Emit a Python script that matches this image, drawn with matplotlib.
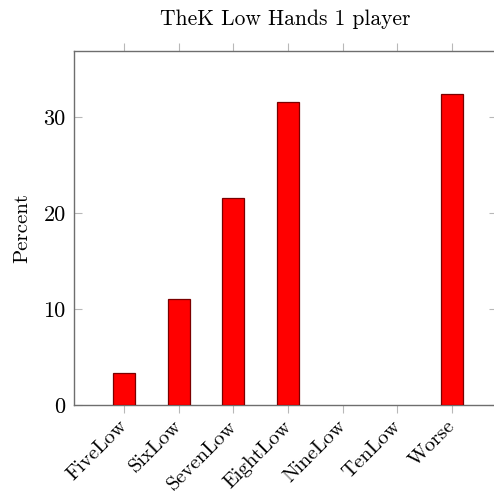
import matplotlib
matplotlib.use("Agg")
import matplotlib.pyplot as plt
import matplotlib.transforms as mtransforms
import numpy as np

categories = ["FiveLow", "SixLow", "SevenLow", "EightLow", "NineLow", "TenLow", "Worse"]
percent = [3.33, 11.1, 21.6, 31.6, 0.0, 0.0, 32.4]
yticks = [0, 10, 20, 30]

plt.rcParams['font.family'] = ['cmr10', 'DejaVu Serif']
plt.rcParams['axes.formatter.use_mathtext'] = True

fig = plt.figure(figsize=(4.94, 4.91), dpi=100)
ax = fig.add_axes([74/494, 1 - 405/491, (497-74)/494, (405-51)/491])

x = np.arange(len(categories))
lw = [0.9 if v > 0 else 0 for v in percent]
ax.bar(x, percent, width=0.4, color="#ff0000", edgecolor="#7a0000", linewidth=lw, zorder=3)

ax.set_xlim(-0.914, 6.82)
ax.set_ylim(0, 36.9)
ax.set_xticks(x)
ax.set_xticklabels([""] * len(categories))
ax.set_yticks(yticks)
ax.set_yticklabels([str(v) for v in yticks], fontsize=16)

# rotated category labels, anchored just left of / below each tick
trans = ax.get_xaxis_transform() + mtransforms.ScaledTranslation(-6/100, -12/100, fig.dpi_scale_trans)
for xi, name in zip(x, categories):
    ax.text(xi, 0, name, transform=trans, rotation=45, ha="right", va="top",
            rotation_mode="anchor", fontsize=14.8, clip_on=False)

for s in ax.spines.values():
    s.set_color("#6e6e6e")
    s.set_linewidth(1.0)

ax.tick_params(axis="x", direction="out", length=6, width=0.8, color="#b8b8b8",
               top=True, bottom=True, labeltop=False, pad=3)
ax.tick_params(axis="y", direction="in", length=6, width=0.8, color="#b8b8b8",
               left=True, right=True, labelright=False, pad=6)

ax.set_ylabel("Percent", fontsize=15, labelpad=9)
ax.set_title("TheK Low Hands 1 player", fontsize=15.5, pad=19)

fig.savefig("out.png", dpi=100)
